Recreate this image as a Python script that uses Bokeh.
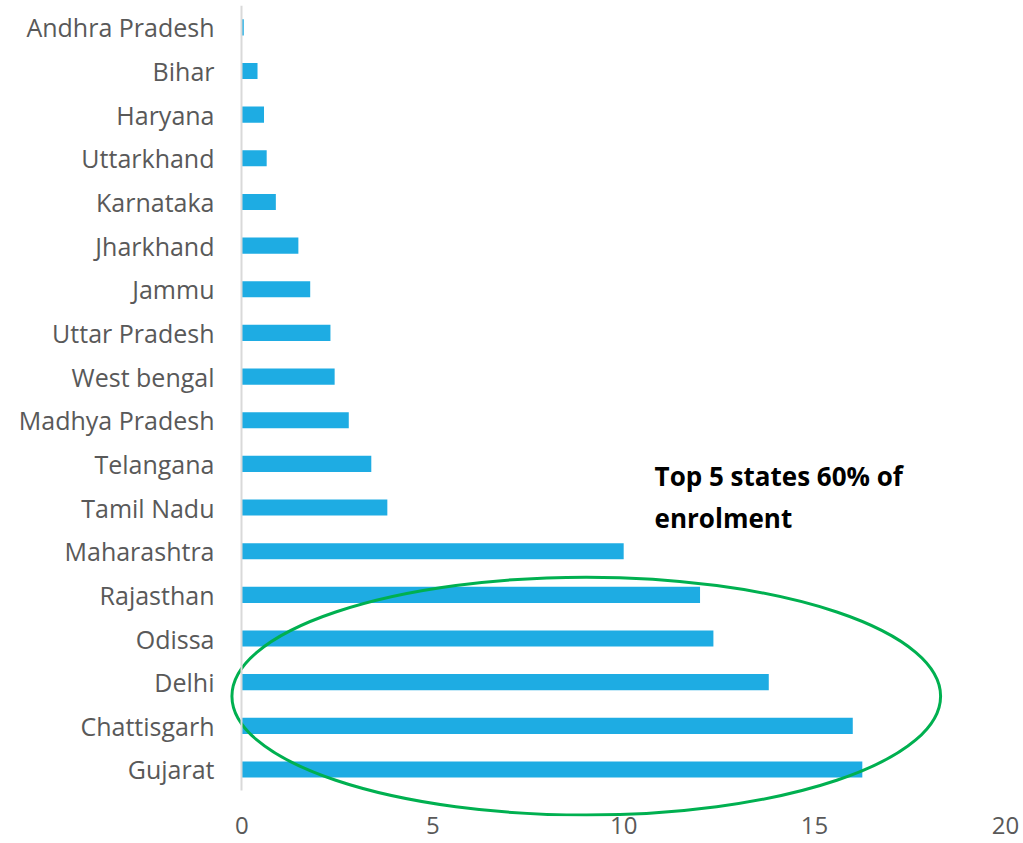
from bokeh.plotting import figure
from bokeh.models import FixedTicker, ColumnDataSource, LinearAxis
from bokeh.embed import file_html
from bokeh.resources import INLINE
from bokeh.core.properties import value

# top-to-bottom order as in the chart
states = ["Andhra Pradesh", "Bihar", "Haryana", "Uttarkhand", "Karnataka", "Jharkhand",
          "Jammu", "Uttar Pradesh", "West bengal", "Madhya Pradesh", "Telangana",
          "Tamil Nadu", "Maharashtra", "Rajasthan", "Odissa", "Delhi", "Chattisgarh", "Gujarat"]
enrolment = [0.05, 0.41, 0.58, 0.65, 0.89, 1.48, 1.79, 2.32, 2.43, 2.8, 3.39,
             3.81, 10.0, 12.0, 12.35, 13.8, 16.0, 16.25]
x_ticks = [0, 5, 10, 15, 20]
note_lines = ["Top 5 states 60% of", "enrolment"]

n = len(states)
pos = [n - 1 - i for i in range(n)]  # Gujarat at 0 (bottom)

src = ColumnDataSource(dict(y=pos, right=enrolment, state=states))

p = figure(width=1023, height=843, output_backend="svg", toolbar_location=None,
           x_range=(-0.35, 20), y_range=(-1.077, 17.5),
           min_border_left=228, min_border_right=18, min_border_top=5, min_border_bottom=27)
p.outline_line_color = None
p.background_fill_color = "white"
p.border_fill_color = "white"
p.grid.grid_line_color = None

p.hbar(y="y", left=0, right="right", height=0.37, source=src,
       fill_color="#1EACE3", line_color=None)

# annotation ellipse around top five
p.ellipse(x=[9.02], y=[1.68], width=[18.56], height=[5.45],
          fill_color=None, line_color="#00B050", line_width=3)

# note text
p.text(x=[10.81, 10.81], y=[6.72, 5.76], text=note_lines,
       text_font=value("Open Sans"), text_font_style="bold", text_font_size="26px",
       text_color="black", text_baseline="alphabetic", text_align="left")

# y axis: category labels at the frame edge
ya = p.yaxis[0]
ya.ticker = FixedTicker(ticks=pos)
ya.major_label_overrides = {pp: s for pp, s in zip(pos, states)}
ya.axis_line_color = None
ya.major_tick_line_color = None
ya.minor_tick_line_color = None
ya.major_tick_out = 0
ya.major_tick_in = 0
ya.major_label_standoff = 14
ya.major_label_text_font = "Open Sans"
ya.major_label_text_font_size = "25px"
ya.major_label_text_color = "#595959"

# y axis line at x = 0
axline = LinearAxis(fixed_location=0, ticker=FixedTicker(ticks=[]), bounds=(-0.48, 17.5),
                    axis_line_color="#D9D9D9", axis_line_width=2,
                    major_tick_line_color=None, minor_tick_line_color=None,
                    major_label_text_font_size="0px")
p.add_layout(axline, "left")

# x axis
xa = p.xaxis[0]
xa.ticker = FixedTicker(ticks=x_ticks)
xa.axis_line_color = None
xa.major_tick_line_color = None
xa.minor_tick_line_color = None
xa.major_tick_out = 0
xa.major_tick_in = 0
xa.major_label_standoff = 0
xa.major_label_text_font = "Open Sans"
xa.major_label_text_font_size = "24px"
xa.major_label_text_color = "#595959"

open("out.html", "w").write(file_html(p, INLINE))
